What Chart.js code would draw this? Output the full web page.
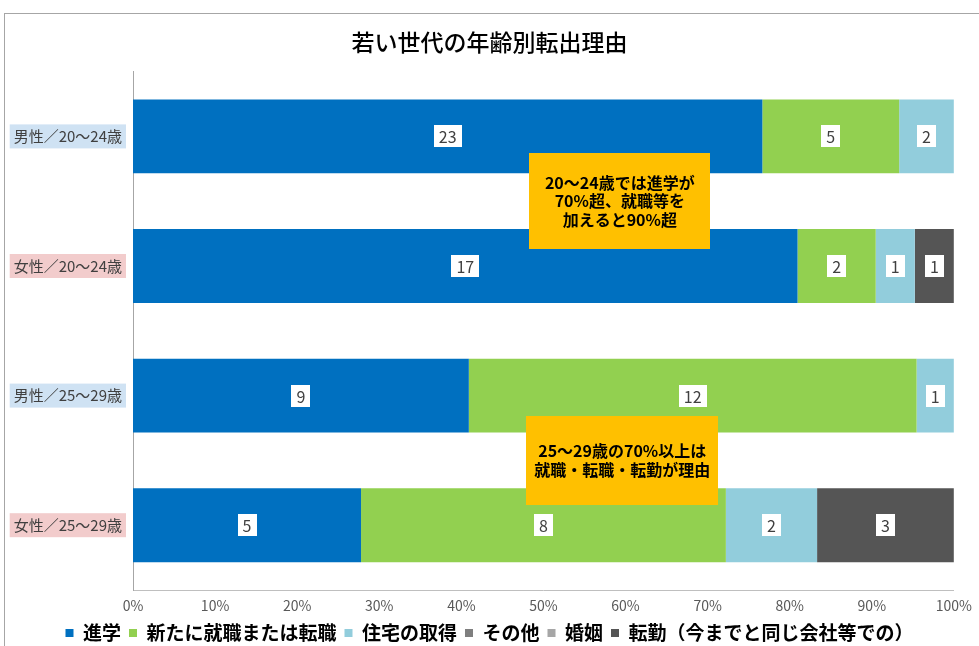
<!DOCTYPE html>
<html lang="ja">
<head>
<meta charset="utf-8">
<title>若い世代の年齢別転出理由</title>
<script src="https://cdn.jsdelivr.net/npm/chart.js@4.4.1/dist/chart.umd.min.js"></script>
<style>
  html, body { margin: 0; padding: 0; background: #fff; overflow: hidden; }
  #wrap { position: relative; width: 979px; height: 646px; overflow: hidden; }
  #marco { position: absolute; left: 4px; top: 13px; width: 1100px; height: 700px; border: 1px solid #a6a6a6; }
  #grafico { position: absolute; left: 0; top: 0; }
</style>
</head>
<body>
<div id="wrap">
  <div id="marco"></div>
  <canvas id="grafico" width="979" height="646"></canvas>
</div>
<script>
// categorías (filas) y cantidades por motivo
const categorias = ['男性／20～24歳', '女性／20～24歳', '男性／25～29歳', '女性／25～29歳'];
const shingaku = [23, 17, 9, 5];   // 進学
const shushoku = [5, 2, 12, 8];    // 新たに就職または転職
const jutaku = [2, 1, 1, 2];       // 住宅の取得
const sonota = [0, 0, 0, 0];       // その他
const konin = [0, 0, 0, 0];        // 婚姻
const tenkin = [0, 1, 0, 3];       // 転勤（今までと同じ会社等での）

const nota1 = ['20～24歳では進学が', '70%超、就職等を', '加えると90%超'];
const nota2 = ['25～29歳の70%以上は', '就職・転職・転勤が理由'];

const FUENTE = '"Noto Sans CJK JP", "Noto Sans", sans-serif';

const series = [
  { label: '進学', cantidades: shingaku, color: '#0070C0' },
  { label: '新たに就職または転職', cantidades: shushoku, color: '#92D050' },
  { label: '住宅の取得', cantidades: jutaku, color: '#92CDDC' },
  { label: 'その他', cantidades: sonota, color: '#7F7F7F' },
  { label: '婚姻', cantidades: konin, color: '#A6A6A6' },
  { label: '転勤（今までと同じ会社等での）', cantidades: tenkin, color: '#555555' },
];

// total por fila para pasar a porcentaje (100% apilado)
const totales = categorias.map((_, i) => series.reduce((s, d) => s + d.cantidades[i], 0));

// etiquetas blancas con la cantidad en el centro de cada tramo
const etiquetasValor = {
  id: 'etiquetasValor',
  afterDatasetsDraw(chart) {
    const ctx = chart.ctx;
    ctx.save();
    ctx.font = '16px ' + FUENTE;
    ctx.textAlign = 'center';
    ctx.textBaseline = 'middle';
    chart.data.datasets.forEach((ds, i) => {
      chart.getDatasetMeta(i).data.forEach((bar, j) => {
        const v = ds.cantidades[j];
        if (!v) return;
        const { x, y } = bar.getCenterPoint();
        const w = ctx.measureText(String(v)).width + 10;
        ctx.fillStyle = '#fff';
        ctx.fillRect(Math.round(x - w / 2), Math.round(y - 11), Math.round(w), 22);
        ctx.fillStyle = '#404040';
        ctx.fillText(String(v), x, y + 1);
      });
    });
    ctx.restore();
  }
};

// cuadros amarillos de comentario
const comentarios = {
  id: 'comentarios',
  afterDraw(chart, args, opts) {
    const ctx = chart.ctx;
    const sx = chart.scales.x, sy = chart.scales.y;
    ctx.save();
    opts.notas.forEach((n) => {
      const cx = sx.getPixelForValue(n.x);
      const cy = sy.getPixelForValue(n.y);
      ctx.fillStyle = '#FFC000';
      ctx.fillRect(Math.round(cx - n.ancho / 2), Math.round(cy - n.alto / 2), n.ancho, n.alto);
      ctx.fillStyle = '#000';
      ctx.font = 'bold 16px ' + FUENTE;
      ctx.textAlign = 'center';
      ctx.textBaseline = 'middle';
      const y0 = cy - (n.lineas.length - 1) * n.interlinea / 2;
      n.lineas.forEach((t, k) => ctx.fillText(t, cx, y0 + k * n.interlinea));
    });
    ctx.restore();
  }
};

new Chart(document.getElementById('grafico'), {
  type: 'bar',
  data: {
    labels: categorias,
    datasets: series.map((s) => ({
      label: s.label,
      cantidades: s.cantidades,
      data: s.cantidades.map((v, i) => v / totales[i]),
      backgroundColor: s.color,
      borderWidth: 0,
      barPercentage: 0.57,
      categoryPercentage: 1,
    })),
  },
  options: {
    indexAxis: 'y',
    responsive: false,
    animation: false,
    layout: { padding: { left: 0, right: 0, top: 0, bottom: -6.5 } },
    plugins: {
      title: {
        display: true,
        text: '若い世代の年齢別転出理由',
        color: '#000',
        font: { family: FUENTE, size: 23, weight: '500' },
        padding: { top: 28, bottom: 16 },
      },
      legend: {
        position: 'bottom',
        labels: {
          boxWidth: 8,
          boxHeight: 8,
          padding: 8,
          color: '#000',
          font: { family: FUENTE, size: 19, weight: 'bold' },
        },
      },
      tooltip: { enabled: false },
      comentarios: {
        notas: [
          { lineas: nota1, x: 0.593, y: 0.5, ancho: 181, alto: 96, interlinea: 18.5 },
          { lineas: nota2, x: 0.596, y: 2.5, ancho: 192, alto: 89, interlinea: 19 },
        ],
      },
    },
    scales: {
      x: {
        stacked: true,
        min: 0,
        max: 1,
        grid: { display: false, drawTicks: false },
        border: { display: true, color: '#bfbfbf' },
        ticks: {
          stepSize: 0.1,
          padding: 7,
          color: '#595959',
          font: { family: FUENTE, size: 14 },
          callback: (v) => Math.round(v * 100) + '%',
        },
        afterFit: (scale) => { scale.height = 25.5; },
      },
      y: {
        stacked: true,
        grid: { display: false, drawTicks: false },
        border: { display: true, color: '#a6a6a6' },
        ticks: {
          padding: 11,
          color: '#404040',
          font: { family: FUENTE, size: 15 },
          showLabelBackdrop: true,
          backdropPadding: { x: 4, y: 3 },
          backdropColor: (c) => (c.index % 2 === 0 ? '#CFE2F3' : '#F2CCCC'),
        },
        afterFit: (scale) => { scale.width = 133; },
      },
      // margen derecho vacío (deja el título centrado en todo el ancho)
      margenDer: {
        axis: 'y',
        position: 'right',
        grid: { display: false, drawTicks: false },
        border: { display: false },
        ticks: { display: false },
        afterFit: (scale) => { scale.width = 24; },
      },
    },
  },
  plugins: [etiquetasValor, comentarios],
});
</script>
</body>
</html>
